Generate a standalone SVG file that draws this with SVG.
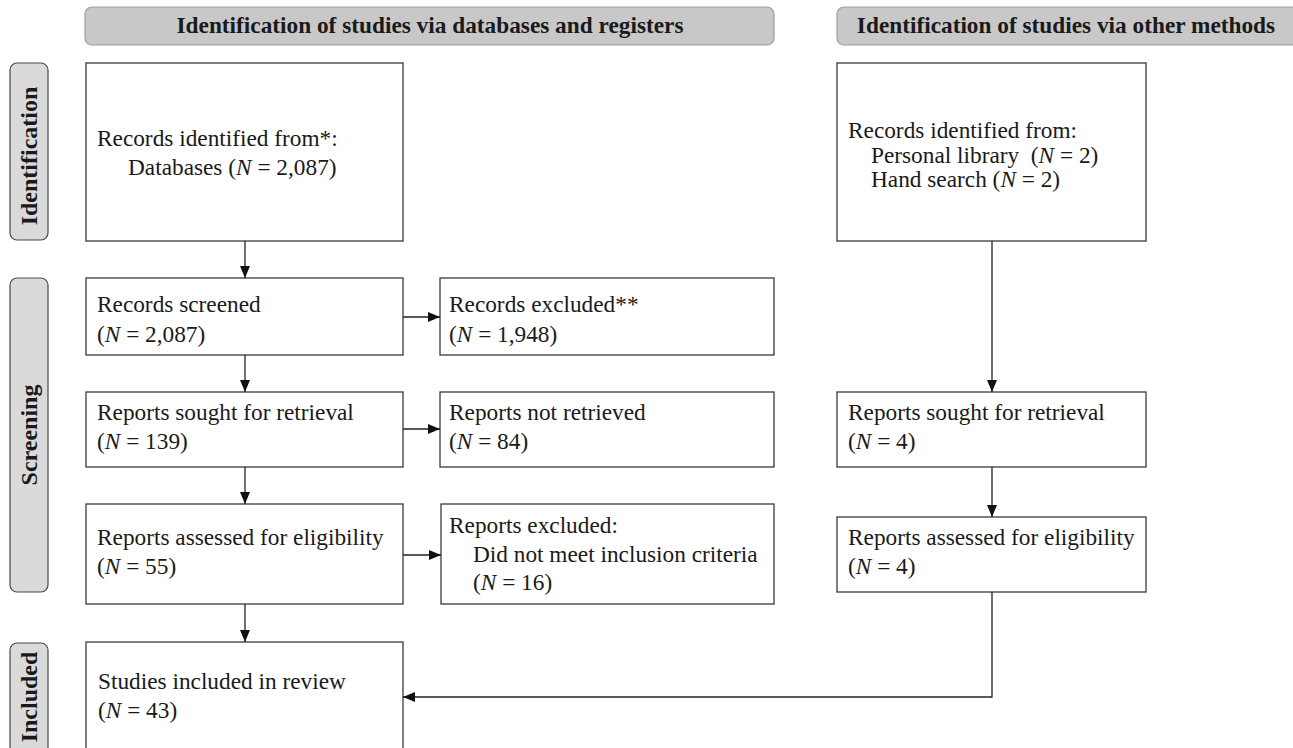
<svg xmlns="http://www.w3.org/2000/svg" width="1293" height="748" viewBox="0 0 1293 748">
<style>
.bg{fill:#ffffff}
.hdr{fill:#c8c8c8;stroke:#9c9c9c;stroke-width:1.2}
.side{fill:#dadada;stroke:#4a4a4a;stroke-width:1.2}
.box{fill:#ffffff;stroke:#3a3a3a;stroke-width:1.3}
.t{font-family:"Liberation Serif",serif;font-size:23.3px;fill:#1a1a1a}
.hb{font-family:"Liberation Serif",serif;font-size:23.3px;font-weight:bold;fill:#1a1a1a}
.sb{font-family:"Liberation Serif",serif;font-size:24px;font-weight:bold;fill:#1a1a1a}
.it{font-style:italic}
.ln{fill:none;stroke:#222;stroke-width:1.3}
</style>
<defs>
<marker id="ah" viewBox="0 0 12 10" refX="12" refY="5" markerWidth="12" markerHeight="10" markerUnits="userSpaceOnUse" orient="auto">
<path d="M0,0 L12,5 L0,10 z" fill="#111"/>
</marker>
</defs>
<rect class="bg" x="0" y="0" width="1293" height="748"/>

<g id="header-databases">
<rect class="hdr" x="85" y="7" width="689" height="38" rx="7"/>
<text class="hb" x="430" y="33" text-anchor="middle">Identification of studies via databases and registers</text>
</g>
<g id="header-other">
<rect class="hdr" x="837" y="7" width="470" height="38" rx="7"/>
<text class="hb" x="1066" y="33" text-anchor="middle">Identification of studies via other methods</text>
</g>

<g id="label-identification">
<rect class="side" x="10" y="63" width="38" height="177" rx="7"/>
<text class="sb" transform="translate(37,156) rotate(-90)" text-anchor="middle">Identification</text>
</g>
<g id="label-screening">
<rect class="side" x="10" y="278" width="38" height="314" rx="7"/>
<text class="sb" transform="translate(37,435) rotate(-90)" text-anchor="middle">Screening</text>
</g>
<g id="label-included">
<rect class="side" x="10" y="643" width="38" height="130" rx="7"/>
<text class="sb" transform="translate(37,697) rotate(-90)" text-anchor="middle">Included</text>
</g>

<g id="records-identified">
<rect class="box" x="86" y="63" width="317" height="178"/>
<text class="t" x="97" y="146">Records identified from*:</text>
<text class="t" x="128" y="175">Databases (<tspan class="it">N</tspan> = 2,087)</text>
</g>
<g id="records-screened">
<rect class="box" x="86" y="278" width="317" height="77"/>
<text class="t" x="97" y="312">Records screened</text>
<text class="t" x="97" y="342">(<tspan class="it">N</tspan> = 2,087)</text>
</g>
<g id="records-excluded">
<rect class="box" x="440" y="278" width="334" height="77"/>
<text class="t" x="449" y="312">Records excluded**</text>
<text class="t" x="449" y="342">(<tspan class="it">N</tspan> = 1,948)</text>
</g>
<g id="reports-sought">
<rect class="box" x="86" y="392" width="317" height="75"/>
<text class="t" x="97" y="420">Reports sought for retrieval</text>
<text class="t" x="97" y="449">(<tspan class="it">N</tspan> = 139)</text>
</g>
<g id="reports-not-retrieved">
<rect class="box" x="440" y="392" width="334" height="75"/>
<text class="t" x="449" y="420">Reports not retrieved</text>
<text class="t" x="449" y="449">(<tspan class="it">N</tspan> = 84)</text>
</g>
<g id="reports-assessed">
<rect class="box" x="86" y="504" width="317" height="100"/>
<text class="t" x="97" y="545">Reports assessed for eligibility</text>
<text class="t" x="97" y="574">(<tspan class="it">N</tspan> = 55)</text>
</g>
<g id="reports-excluded">
<rect class="box" x="441" y="504" width="333" height="100"/>
<text class="t" x="449" y="533">Reports excluded:</text>
<text class="t" x="473" y="562">Did not meet inclusion criteria</text>
<text class="t" x="473" y="590">(<tspan class="it">N</tspan> = 16)</text>
</g>
<g id="studies-included">
<rect class="box" x="86" y="642" width="317" height="130"/>
<text class="t" x="98" y="689">Studies included in review</text>
<text class="t" x="98" y="718">(<tspan class="it">N</tspan> = 43)</text>
</g>
<g id="other-identified">
<rect class="box" x="837" y="63" width="309" height="178"/>
<text class="t" x="848" y="138">Records identified from:</text>
<text class="t" x="871" y="163" style="white-space:pre">Personal library  (<tspan class="it">N</tspan> = 2)</text>
<text class="t" x="871" y="187">Hand search (<tspan class="it">N</tspan> = 2)</text>
</g>
<g id="other-sought">
<rect class="box" x="837" y="392" width="309" height="75"/>
<text class="t" x="848" y="420">Reports sought for retrieval</text>
<text class="t" x="848" y="449">(<tspan class="it">N</tspan> = 4)</text>
</g>
<g id="other-assessed">
<rect class="box" x="837" y="517" width="309" height="75"/>
<text class="t" x="848" y="545">Reports assessed for eligibility</text>
<text class="t" x="848" y="574">(<tspan class="it">N</tspan> = 4)</text>
</g>

<g id="connectors">
<line class="ln" x1="245" y1="241" x2="245" y2="278" marker-end="url(#ah)"/>
<line class="ln" x1="245" y1="355" x2="245" y2="392" marker-end="url(#ah)"/>
<line class="ln" x1="245" y1="467" x2="245" y2="504" marker-end="url(#ah)"/>
<line class="ln" x1="245" y1="604" x2="245" y2="642" marker-end="url(#ah)"/>
<line class="ln" x1="403" y1="317" x2="440" y2="317" marker-end="url(#ah)"/>
<line class="ln" x1="403" y1="429" x2="440" y2="429" marker-end="url(#ah)"/>
<line class="ln" x1="403" y1="555" x2="441" y2="555" marker-end="url(#ah)"/>
<line class="ln" x1="992" y1="241" x2="992" y2="392" marker-end="url(#ah)"/>
<line class="ln" x1="992" y1="467" x2="992" y2="517" marker-end="url(#ah)"/>
<polyline class="ln" points="992,592 992,697 403,697" marker-end="url(#ah)"/>
</g>
</svg>
